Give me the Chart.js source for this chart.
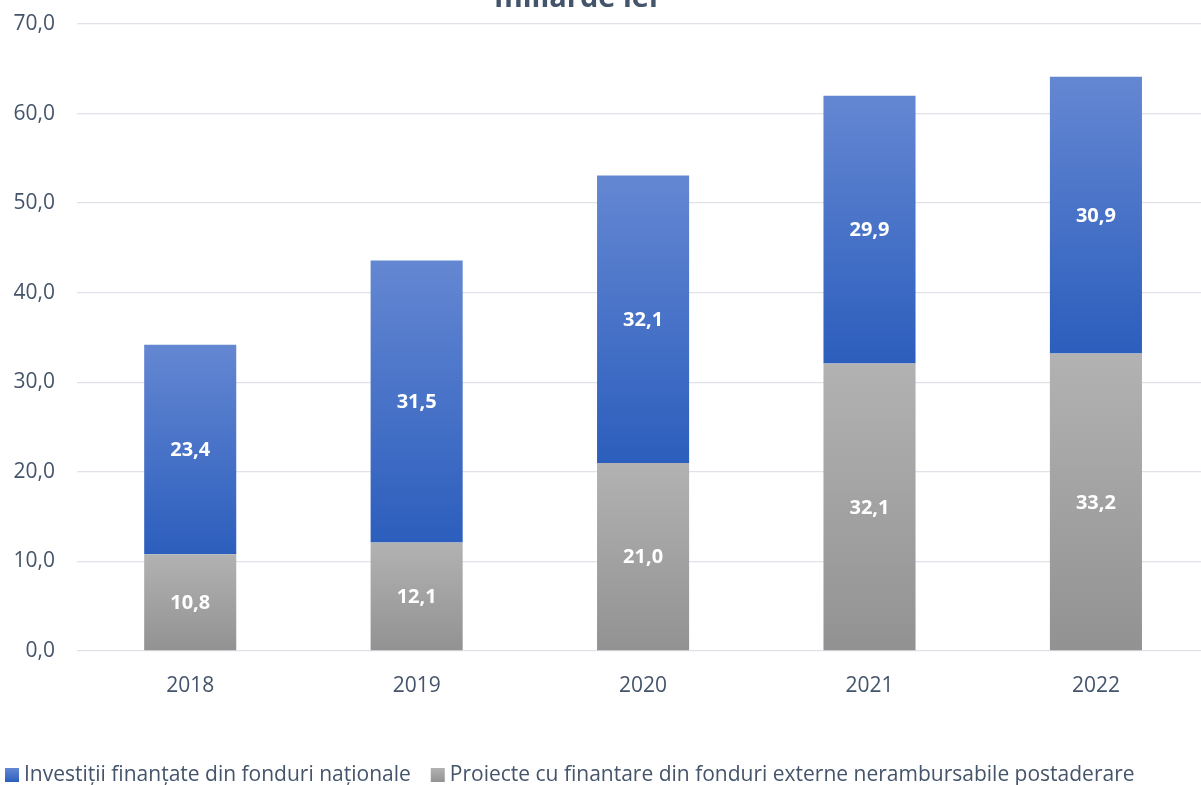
<!DOCTYPE html>
<html lang="ro">
<head>
<meta charset="utf-8">
<title>Investiții – miliarde lei</title>
<script src="https://cdn.jsdelivr.net/npm/chart.js@4/dist/chart.umd.min.js"></script>
<style>
  html, body { margin: 0; padding: 0; background: #ffffff; overflow: hidden; }
  #wrap { width: 1201px; height: 785px; position: relative; }
</style>
</head>
<body>
<div id="wrap"><canvas id="chart" width="1201" height="785"></canvas></div>
<script>
// Years on the category axis
const years = ['2018', '2019', '2020', '2021', '2022'];
// Projects financed from external non-reimbursable funds (bottom segment)
const externalFunds = [10.8, 12.1, 21.0, 32.1, 33.2];
// Investments financed from national funds (top segment)
const nationalFunds = [23.4, 31.5, 32.1, 29.9, 30.9];
// Value axis ticks
const yTicks = [0, 10, 20, 30, 40, 50, 60, 70];

const titleText = 'miliarde lei';
const labelExternal = 'Proiecte cu finantare din fonduri externe nerambursabile postaderare';
const labelNational = 'Investiții finanțate din fonduri naționale';

const TEXT = '#44546a';
const FONT = '"Open Sans", "DejaVu Sans", sans-serif';

const palette = {
  external: ['#b2b2b2', '#929292'],
  national: ['#6487d2', '#2c5ebd']
};

const fmt = v => v.toFixed(1).replace('.', ',');

// Vertical gradient for each stacked segment, computed from the value scale
function segmentGradient(colors, below) {
  return function (ctx) {
    const chart = ctx.chart;
    const y = chart.scales.y;
    if (!y || ctx.type !== 'data') return colors[1];
    const ds = chart.data.datasets[ctx.datasetIndex];
    const base = below ? below[ctx.dataIndex] : 0;
    const top = base + ds.data[ctx.dataIndex].y;
    const y0 = y.getPixelForValue(top);
    const y1 = y.getPixelForValue(base);
    if (!isFinite(y0) || !isFinite(y1) || y0 === y1) return colors[1];
    const g = chart.ctx.createLinearGradient(0, y0, 0, y1);
    g.addColorStop(0, colors[0]);
    g.addColorStop(1, colors[1]);
    return g;
  };
}

const toPoints = arr => arr.map((v, i) => ({ x: i, y: v }));

// White value labels centred in each segment
const valueLabels = {
  id: 'valueLabels',
  afterDatasetsDraw(chart) {
    const { ctx } = chart;
    ctx.save();
    ctx.fillStyle = '#ffffff';
    ctx.font = 'bold 20px ' + FONT;
    ctx.textAlign = 'center';
    ctx.textBaseline = 'middle';
    chart.data.datasets.forEach((ds, di) => {
      chart.getDatasetMeta(di).data.forEach((el, i) => {
        const c = el.getCenterPoint();
        ctx.fillText(fmt(ds.data[i].y), c.x, c.y + 1);
      });
    });
    ctx.restore();
  }
};

// Title partly above the canvas edge
const topTitle = {
  id: 'topTitle',
  afterDraw(chart) {
    const { ctx } = chart;
    ctx.save();
    ctx.fillStyle = TEXT;
    ctx.font = 'bold 29px ' + FONT;
    ctx.textAlign = 'center';
    ctx.textBaseline = 'alphabetic';
    ctx.fillText(titleText, 576, 7);
    ctx.restore();
  }
};

// Legend along the bottom edge, national funds first
const bottomLegend = {
  id: 'bottomLegend',
  afterDraw(chart) {
    const { ctx } = chart;
    const items = [
      { text: chart.data.datasets[1].label, colors: palette.national },
      { text: chart.data.datasets[0].label, colors: palette.external }
    ];
    ctx.save();
    ctx.font = '21px ' + FONT;
    ctx.textBaseline = 'middle';
    let x = 5;
    const box = 14, yBox = 768;
    items.forEach(it => {
      const g = ctx.createLinearGradient(0, yBox, 0, yBox + box);
      g.addColorStop(0, it.colors[0]);
      g.addColorStop(1, it.colors[1]);
      ctx.fillStyle = g;
      ctx.fillRect(x, yBox, box, box);
      x += box + 5;
      ctx.fillStyle = TEXT;
      ctx.fillText(it.text, x, yBox + box / 2);
      x += ctx.measureText(it.text).width + 20;
    });
    ctx.restore();
  }
};

new Chart(document.getElementById('chart'), {
  type: 'bar',
  data: {
    datasets: [
      {
        label: labelExternal,
        data: toPoints(externalFunds),
        backgroundColor: segmentGradient(palette.external, null),
        borderWidth: 0
      },
      {
        label: labelNational,
        data: toPoints(nationalFunds),
        backgroundColor: segmentGradient(palette.national, externalFunds),
        borderWidth: 0
      }
    ]
  },
  options: {
    responsive: false,
    animation: false,
    events: [],
    categoryPercentage: 1,
    barPercentage: 0.4066,
    layout: { padding: { top: 24, right: 0, bottom: 0, left: 0 } },
    plugins: {
      legend: { display: false },
      title: { display: false },
      tooltip: { enabled: false }
    },
    scales: {
      x: {
        type: 'linear',
        stacked: true,
        offset: false,
        min: -0.5,
        max: 4.464,
        grid: { display: false, drawTicks: false },
        border: { display: false },
        afterBuildTicks: s => { s.ticks = years.map((_, i) => ({ value: i })); },
        afterFit: s => { s.height = 134; },
        ticks: {
          color: TEXT,
          font: { family: FONT, size: 21 },
          padding: 22,
          maxRotation: 0,
          autoSkip: false,
          callback: (v, i) => years[i]
        }
      },
      y: {
        stacked: true,
        min: 0,
        max: 70,
        grid: { color: '#dfe2e8', lineWidth: 1.3, drawTicks: false },
        border: { display: false },
        afterBuildTicks: s => { s.ticks = yTicks.map(v => ({ value: v })); },
        afterFit: s => { s.width = 77; s.paddingTop = 0; s.paddingBottom = 0; },
        ticks: {
          color: TEXT,
          font: { family: FONT, size: 21 },
          padding: 22,
          callback: v => fmt(v)
        }
      }
    }
  },
  plugins: [valueLabels, topTitle, bottomLegend]
});
</script>
</body>
</html>
